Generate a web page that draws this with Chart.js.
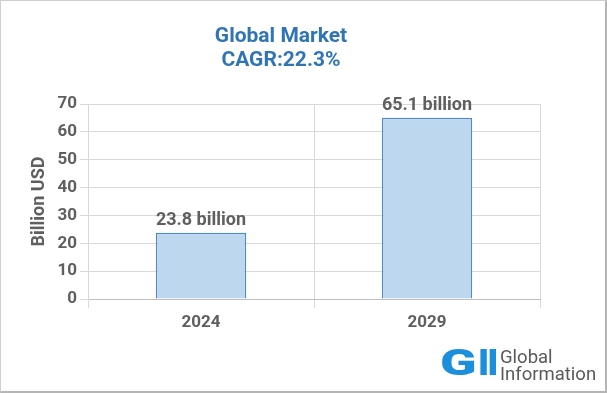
<!DOCTYPE html>
<html>
<head>
<meta charset="utf-8">
<script src="https://cdn.jsdelivr.net/npm/chart.js@4.4.0/dist/chart.umd.min.js"></script>
<style>
  html, body { margin: 0; padding: 0; background: #fff; }
  #frame { position: relative; width: 607px; height: 393px; box-sizing: border-box;
           border: 1px solid #cfcfcf; border-right: 2px solid #b5b5b5; border-bottom: 2px solid #b5b5b5; background: #fff; overflow: hidden; }
  #c { position: absolute; left: -1px; top: -1px; }
  #logo { position: absolute; left: 439px; top: 349px; height: 36px; font-family: Roboto, "Open Sans", sans-serif; }
  #logo .g { position: absolute; left: 0; top: -6px; color: #1b8fdc; font-weight: 900; font-size: 37px; line-height: 1; transform: scaleX(1.45); transform-origin: left center; }
  #logo .ii { position: absolute; left: 38px; top: -6px; color: #1b8fdc; font-weight: 900; font-size: 37px; line-height: 1; letter-spacing: -2px; }
  #logo .txt { position: absolute; left: 60px; top: -1px; color: #5a5a5a; font-size: 18.5px; line-height: 17px; white-space: nowrap; }
</style>
</head>
<body>
<div id="frame">
  <canvas id="c" width="562" height="393"></canvas>
  <div id="logo"><span class="g">G</span><span class="ii">II</span><span class="txt">Global<br>Information</span></div>
</div>
<script>
const categories = ["2024", "2029"];
const values = [23.8, 65.1];
const valueLabels = ["23.8 billion", "65.1 billion"];
const titleLines = ["Global Market", "CAGR:22.3%"];
const yAxisTitle = "Billion USD";

const gray = "#5f5f5f";
const font = "Roboto, 'Liberation Sans', sans-serif";

const dataLabelPlugin = {
  id: "dataLabels",
  afterDatasetsDraw(chart) {
    const ctx = chart.ctx;
    const meta = chart.getDatasetMeta(0);
    ctx.save();
    ctx.fillStyle = gray;
    ctx.font = "bold 18px " + font;
    ctx.textAlign = "center";
    ctx.textBaseline = "alphabetic";
    meta.data.forEach((bar, i) => {
      ctx.fillText(valueLabels[i], bar.x, bar.y - 8);
    });
    ctx.restore();
  }
};

new Chart(document.getElementById("c"), {
  type: "bar",
  data: {
    labels: categories,
    datasets: [{
      data: values,
      backgroundColor: "#bdd7ee",
      borderColor: "#4f89c9",
      borderWidth: 1.5,
      barPercentage: 0.4,
      categoryPercentage: 1.0
    }]
  },
  options: {
    responsive: false,
    animation: false,
    devicePixelRatio: 1,
    layout: { padding: { left: 22, right: 22, top: 0, bottom: 0 } },
    plugins: {
      legend: { display: false },
      tooltip: { enabled: false },
      title: {
        display: true,
        text: titleLines,
        color: "#2f75b5",
        font: { family: font, size: 21, weight: "bold", lineHeight: 1.143 },
        padding: { top: 25, bottom: 31 }
      }
    },
    scales: {
      x: {
        grid: { color: "#d9d9d9", tickLength: 9, offset: true },
        border: { color: "#bfbfbf" },
        ticks: { color: gray, font: { family: font, size: 17, weight: "bold" }, padding: 5 },
        afterFit(scale) { scale.height = 94; }
      },
      y: {
        min: 0, max: 70,
        grid: { color: "#d9d9d9", tickLength: 8 },
        border: { color: "#d9d9d9" },
        ticks: { stepSize: 10, color: gray, font: { family: font, size: 17, weight: "bold" }, padding: 3 },
        title: { display: true, text: yAxisTitle, color: gray, font: { family: font, size: 18, weight: "bold" }, padding: { top: 7, bottom: 0 } },
        afterFit(scale) { scale.width = 66; }
      }
    }
  },
  plugins: [dataLabelPlugin]
});
</script>
</body>
</html>
